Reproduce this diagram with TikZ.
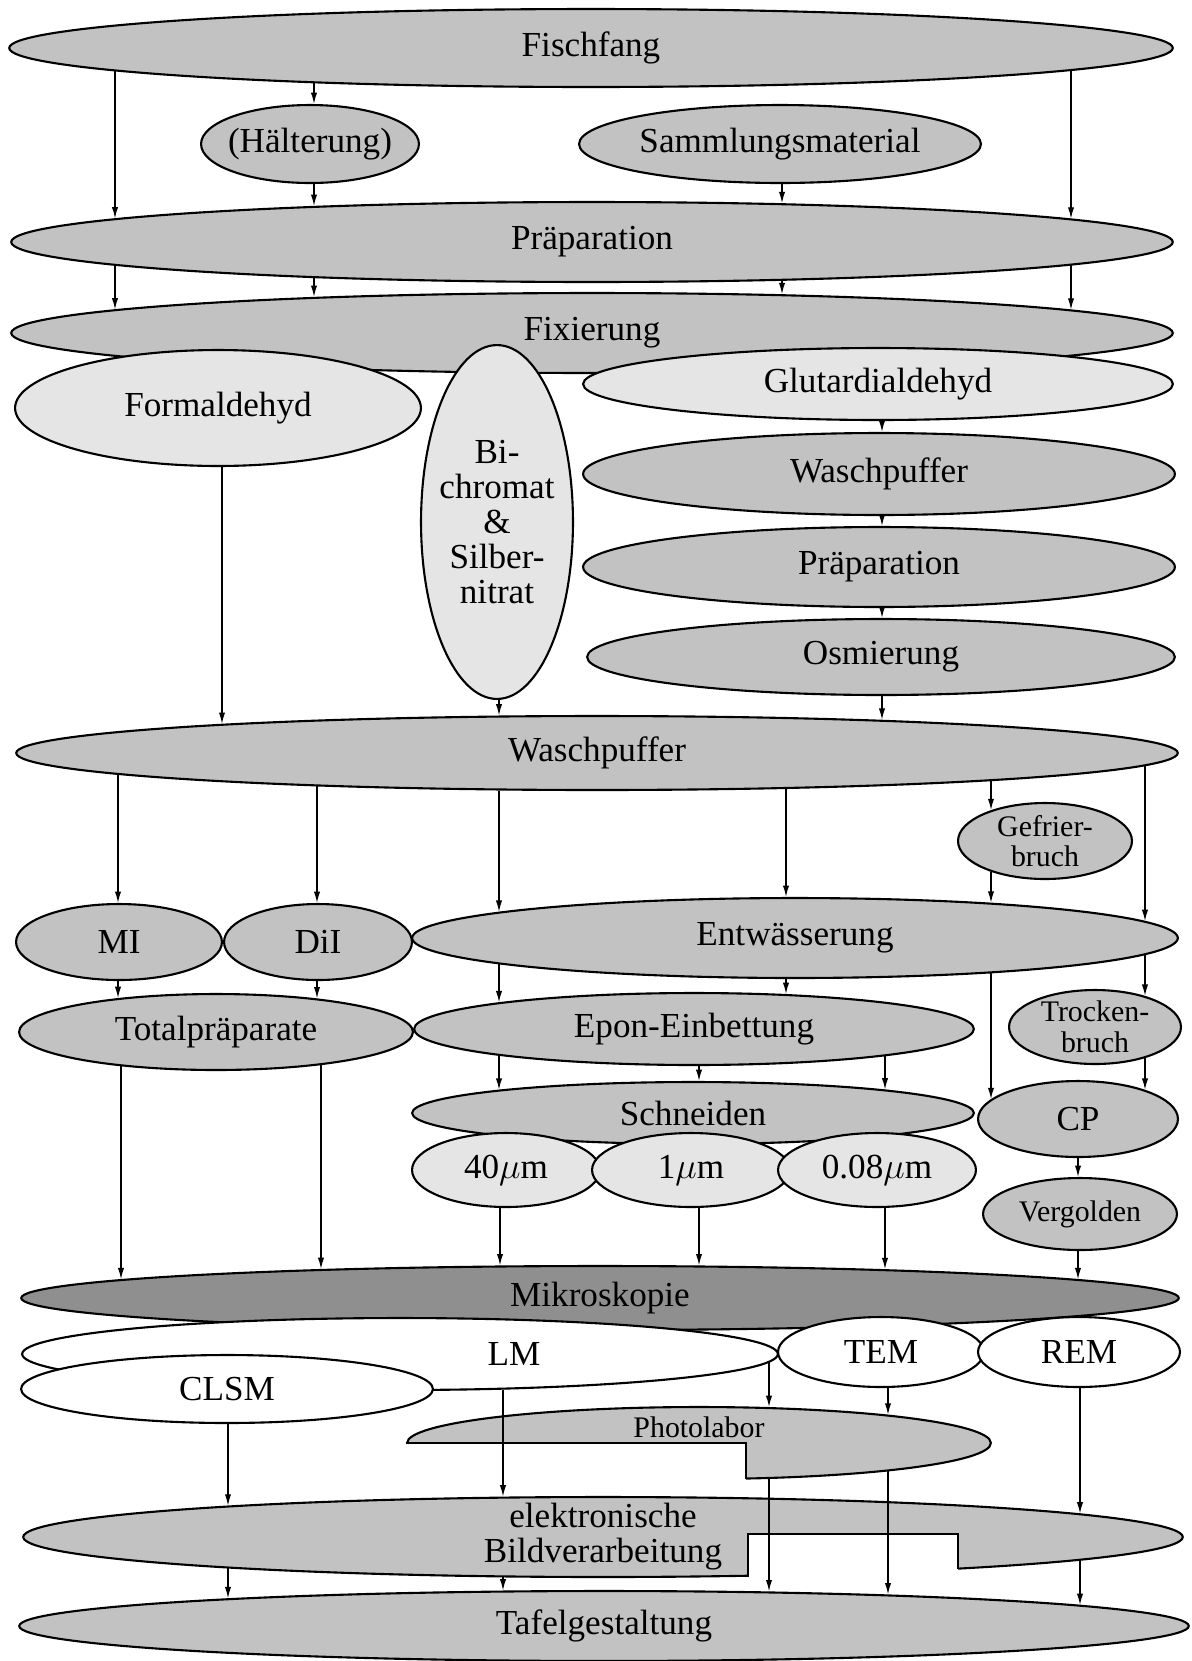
\documentclass[tikz,border=0pt]{standalone}
\usepackage{fontspec}
\setmainfont{Liberation Serif}
\usetikzlibrary{shapes.geometric,arrows.meta,calc}

\definecolor{fillmid}{gray}{0.76}
\definecolor{filllight}{gray}{0.9}
\definecolor{filldark}{gray}{0.56}

\tikzset{
    blob/.style={ellipse, draw, line width=1.2pt, inner sep=0pt, align=center},
    midblob/.style={blob, fill=fillmid},
    lightblob/.style={blob, fill=filllight},
    darkblob/.style={blob, fill=filldark},
    whiteblob/.style={blob, fill=white},
    radii/.style 2 args={minimum width=#1*0.04cm, minimum height=#2*0.04cm},
    small/.style={font=\fontsize{17}{17.5}\selectfont},
    arr/.style={line width=0.8pt, -{Latex[length=6.5pt,width=3.6pt]}},
}

% vertical arrow at x (px) from the lower rim of #1 to the upper rim of #2
\newcommand{\vlink}[3]{%
    \draw[arr] let \p1=(#1.center), \p2=(#1.east), \p3=(#1.south),
                   \p4=(#2.center), \p5=(#2.east), \p6=(#2.north), \p9=(#3,0) in
        (\x9, {\y1-(\y1-\y3)*sqrt(1-((\x9-\x1)/(\x2-\x1))^2)})
        -- (\x9, {\y4+(\y6-\y4)*sqrt(1-((\x9-\x4)/(\x5-\x4))^2)});
}

\begin{document}
\begin{tikzpicture}[x=0.02cm, y=-0.02cm, font=\fontsize{20}{20}\selectfont]
            % the page
            \fill[white] (0,0) rectangle (1191,1661);
            \useasboundingbox (0,0) rectangle (1191,1661);

            % catch and fixing
            \node[midblob, radii={582}{39}] (fisch) at (591,48) {Fischfang};
            \node[midblob, radii={109}{39}, inner xsep=-3pt] (haelt) at (310,144) {(Hälterung)};
            \node[midblob, radii={201}{39}, inner xsep=-2pt] (samml) at (780,144) {Sammlungsmaterial};
            \node[midblob, radii={581}{40}] (praepA) at (592,242) {Präparation};
            \node[midblob, radii={581}{40}] (fix) at (592,333) {Fixierung};
            \node[lightblob, radii={203}{58}] (formal) at (218,408) {Formaldehyd};
            \node[lightblob, radii={76}{177}, inner xsep=-3pt] (bichro) at (497,522) {Bi-\\chromat\\\&\\Silber-\\nitrat};
            \node[lightblob, radii={295}{36}] (glutar) at (878,384) {Glutardialdehyd};
            \node[midblob, radii={296}{41}] (waschB) at (879,474) {Waschpuffer};
            \node[midblob, radii={296}{40}] (praepB) at (879,567) {Präparation};
            \node[midblob, radii={294}{38}] (osm) at (881,657) {Osmierung};
            \node[midblob, radii={581}{37}] (wasch) at (597,753) {Waschpuffer};

            % preparation
            \node[midblob, small, radii={87}{38}, inner ysep=-3pt] (gefrier) at (1045,841) {Gefrier-\\bruch};
            \node[midblob, radii={103}{38}] (mi) at (119,942) {MI};
            \node[midblob, radii={94}{38}] (dil) at (318,942) {DiI};
            \node[midblob, radii={383}{40}] (entw) at (795,938) {Entwässerung};
            \node[midblob, radii={197}{38}] (total) at (216,1032) {Totalpräparate};
            \node[midblob, radii={280}{36}] (epon) at (694,1029) {Epon-Einbettung};
            \node[midblob, small, radii={86}{37}, inner ysep=-3pt] (trocken) at (1095,1027) {Trocken-\\bruch};
            \node[midblob, radii={281}{31}] (schneid) at (693,1113) {Schneiden};
            \node[lightblob, radii={94}{37}] (umA) at (506,1170) {40$\mu$m};
            \node[lightblob, radii={99}{37}] (umB) at (691,1170) {1$\mu$m};
            \node[lightblob, radii={99}{37}] (umC) at (877,1170) {0.08$\mu$m};
            \node[midblob, radii={100}{38}] (cp) at (1078,1119) {CP};
            \node[midblob, small, radii={97}{36}] (vergold) at (1080,1214) {Vergolden};

            % microscopy and pictures
            \node[darkblob, radii={579}{32}] (mikro) at (600,1298) {Mikroskopie};
            \node[whiteblob, radii={378}{36}, label={[xshift=2.28cm]center:LM}] (lm) at (400,1354) {};
            \node[whiteblob, radii={206}{34}] (clsm) at (227,1389) {CLSM};
            \node[whiteblob, radii={103}{35}] (tem) at (881,1352) {TEM};
            \node[whiteblob, radii={101}{35}] (rem) at (1079,1352) {REM};

            \node[midblob, radii={292}{36}, label={[small, yshift=0.32cm]center:Photolabor}] (photo) at (699,1443) {};
            \fill[white] (400,1443) rectangle (746,1484);
            \draw[line width=1.2pt] (photo.west) -- (746,1443) -- (746,1479);

            \node[midblob, radii={580}{40}, inner ysep=-4pt] (ebv) at (603,1537) {elektronische\\Bildverarbeitung};
            \fill[white] (748,1534) rectangle (958,1583);
            \draw[line width=1.2pt] (748,1577) -- (748,1534) -- (958,1534) -- (958,1569);

            \node[midblob, radii={585}{35}] (tafel) at (604,1626) {Tafelgestaltung};

            % arrows
            \foreach \srcnode/\dstnode/\xpos in {fisch/praepA/115, fisch/haelt/314, haelt/praepA/314,
                    samml/praepA/782, fisch/praepA/1071, praepA/fix/115, praepA/fix/314,
                    praepA/fix/782, praepA/fix/1071,
                    glutar/waschB/882, waschB/praepB/882, praepB/osm/882, osm/wasch/882,
                    formal/wasch/222, bichro/wasch/499} {
                \vlink{\srcnode}{\dstnode}{\xpos}
            };
            \foreach \srcnode/\dstnode/\xpos in {wasch/mi/118, wasch/dil/317, wasch/entw/499,
                    wasch/entw/786, wasch/gefrier/991, wasch/entw/1145, gefrier/entw/991,
                    mi/total/118, dil/total/317, entw/epon/499, entw/epon/786,
                    entw/trocken/1145, entw/cp/991, trocken/cp/1145,
                    epon/schneid/499, epon/schneid/699, epon/schneid/885, cp/vergold/1078} {
                \vlink{\srcnode}{\dstnode}{\xpos}
            };
            \foreach \srcnode/\dstnode/\xpos in {total/mikro/121, total/mikro/321, umA/mikro/500,
                    umB/mikro/699, umC/mikro/885, vergold/mikro/1078,
                    clsm/ebv/228, lm/ebv/503, rem/ebv/1080, lm/photo/769, tem/photo/888,
                    ebv/tafel/228, ebv/tafel/503, ebv/tafel/1080,
                    photo/tafel/769, photo/tafel/888} {
                \vlink{\srcnode}{\dstnode}{\xpos}
            };

\end{tikzpicture}
\end{document}
